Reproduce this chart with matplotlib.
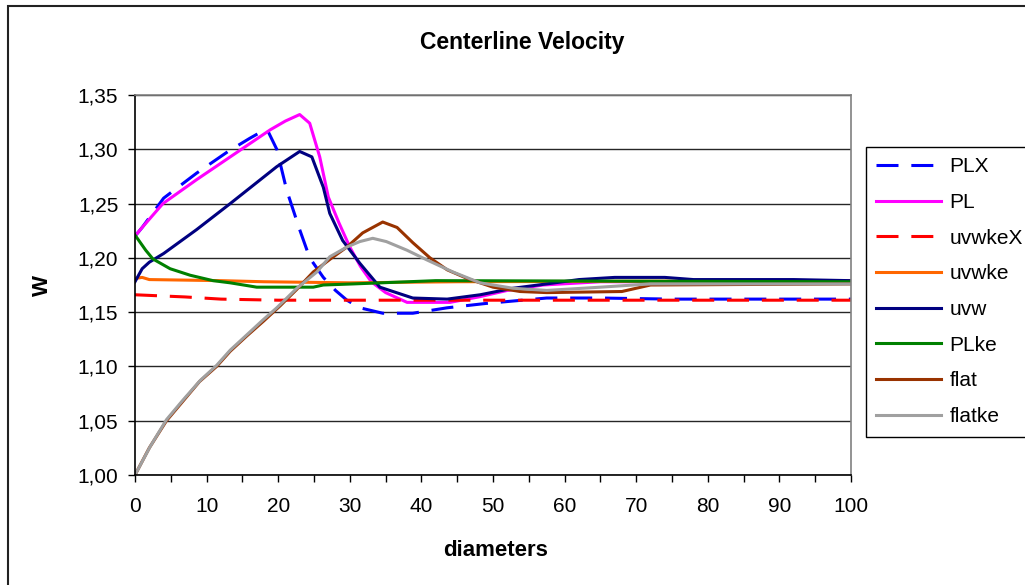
import numpy as np
import matplotlib
matplotlib.use('Agg')
import matplotlib.pyplot as plt
from matplotlib.patches import Rectangle

plt.rcParams['font.family'] = ['Liberation Sans', 'DejaVu Sans']

# data
plx_x = [0, 1, 4, 8.6, 13, 16, 18.4, 19.8, 21.2, 23, 24.4, 26.3, 28, 29.6, 31.4, 34.6, 38.8, 43.6, 49, 57.5, 65, 75, 100]
plx_y = [1.220, 1.228, 1.255, 1.278, 1.298, 1.310, 1.319, 1.300, 1.262, 1.226, 1.200, 1.182, 1.170, 1.161, 1.154, 1.149, 1.149, 1.154, 1.158, 1.163, 1.163, 1.162, 1.162]

pl_x = [0, 1, 3.9, 8.6, 13.3, 18.9, 21, 23, 24.4, 25.8, 27, 28.5, 30, 31.5, 33, 35, 38, 44, 48, 52, 57, 65, 100]
pl_y = [1.220, 1.228, 1.250, 1.272, 1.293, 1.318, 1.326, 1.332, 1.324, 1.293, 1.256, 1.232, 1.210, 1.192, 1.178, 1.168, 1.159, 1.159, 1.164, 1.170, 1.175, 1.178, 1.178]

uvwkex_x = [0, 7, 12, 20, 100]
uvwkex_y = [1.166, 1.164, 1.162, 1.161, 1.161]

uvwke_x = [0, 1, 2, 12, 18, 30, 45, 100]
uvwke_y = [1.181, 1.182, 1.180, 1.179, 1.178, 1.177, 1.178, 1.179]

uvw_x = [0, 1, 2, 4, 8.6, 13.3, 19.8, 23, 24.7, 26.3, 27.2, 29, 31.4, 34.2, 38.8, 43.6, 48.2, 52.8, 57.5, 62, 67, 74, 78, 92, 100]
uvw_y = [1.178, 1.190, 1.196, 1.204, 1.226, 1.250, 1.284, 1.298, 1.293, 1.265, 1.241, 1.216, 1.195, 1.173, 1.163, 1.162, 1.166, 1.172, 1.176, 1.180, 1.182, 1.182, 1.180, 1.180, 1.179]

plke_x = [0, 1.5, 2.5, 4.9, 7.7, 10.9, 13.3, 17, 24.9, 26.3, 30.5, 42, 100]
plke_y = [1.221, 1.207, 1.199, 1.190, 1.184, 1.179, 1.177, 1.173, 1.173, 1.175, 1.176, 1.179, 1.178]

flat_x = [0, 2, 4.4, 6.7, 9, 11.4, 13.3, 15.6, 18, 20.3, 22.6, 24.9, 27.5, 29.6, 31.8, 34.6, 36.6, 38.8, 41.2, 43.6, 46.4, 50, 53.8, 57.5, 68, 72, 100]
flat_y = [1.000, 1.025, 1.050, 1.068, 1.086, 1.100, 1.114, 1.128, 1.142, 1.156, 1.171, 1.187, 1.200, 1.210, 1.223, 1.233, 1.228, 1.214, 1.200, 1.189, 1.181, 1.173, 1.169, 1.168, 1.169, 1.175, 1.176]

flatke_x = [0, 2.1, 4.4, 6.7, 9.1, 11.4, 13.3, 15.6, 17.9, 19.8, 22.6, 25.4, 27.2, 29.6, 31.4, 33.2, 35.1, 38, 40.8, 44.4, 48.2, 52.8, 57.5, 65, 72, 100]
flatke_y = [1.000, 1.026, 1.051, 1.069, 1.087, 1.101, 1.115, 1.129, 1.143, 1.154, 1.172, 1.187, 1.201, 1.210, 1.215, 1.218, 1.215, 1.207, 1.198, 1.187, 1.177, 1.172, 1.170, 1.173, 1.176, 1.176]

fig = plt.figure(figsize=(10.25, 5.85), dpi=100)
ax = fig.add_axes([135/1025, 1-475/585, 716/1025, 380/585])

lw = 2.2
dash = (7.2, 4.2)
ax.plot(plx_x, plx_y, color='#0000FF', lw=lw, dashes=dash, label='PLX')
ax.plot(pl_x, pl_y, color='#FF00FF', lw=lw, label='PL')
ax.plot(uvwkex_x, uvwkex_y, color='#FF0000', lw=lw, dashes=dash, label='uvwkeX')
ax.plot(uvwke_x, uvwke_y, color='#FF6600', lw=lw, label='uvwke')
ax.plot(uvw_x, uvw_y, color='#000080', lw=lw, label='uvw')
ax.plot(plke_x, plke_y, color='#008000', lw=lw, label='PLke')
ax.plot(flat_x, flat_y, color='#993300', lw=lw, label='flat')
ax.plot(flatke_x, flatke_y, color='#A0A0A0', lw=lw, label='flatke')

ax.set_xlim(0, 100)
ax.set_ylim(1.0, 1.35)
ax.set_xticks(np.arange(0, 101, 10))
ax.set_xticks(np.arange(0, 101, 5), minor=True)
yt = np.arange(1.0, 1.351, 0.05)
ax.set_yticks(yt)
ax.set_yticklabels([('%.2f' % v).replace('.', ',') for v in yt])
ax.tick_params(axis='both', which='both', direction='out', length=5, width=1, labelsize=15, color='black')
ax.tick_params(axis='x', pad=11)
ax.tick_params(axis='y', pad=7)
ax.grid(axis='y', color='#262626', lw=1)
ax.set_axisbelow(True)
for s in ['top', 'right']:
    ax.spines[s].set_color('#808080')
for s in ['left', 'bottom']:
    ax.spines[s].set_color('black')
for s in ax.spines.values():
    s.set_linewidth(1.2)

ax.text(-93/716, 0.5, 'W', transform=ax.transAxes, rotation=90, ha='center', va='center',
        fontsize=16, fontweight='bold')
ax.text(0.503, (475-550)/380, 'diameters', transform=ax.transAxes, ha='center', va='center',
        fontsize=16, fontweight='bold')
fig.text(522/1025, 1-42/585, 'Centerline Velocity', ha='center', va='center', fontsize=16.5, fontweight='bold')

leg = fig.legend(loc='upper left', bbox_to_anchor=(866/1025, 1-147/585), bbox_transform=fig.transFigure,
                 fontsize=15, frameon=True, fancybox=False, edgecolor='black', framealpha=1,
                 handlelength=3.1, handletextpad=0.4, labelspacing=0.8, borderpad=0.5, borderaxespad=0)
leg.get_frame().set_linewidth(1)

# outer chart border (top and left visible)
fig.patches.append(Rectangle((8/1025, -0.1), 1.1, 1.1 - 6/585, transform=fig.transFigure,
                             fill=False, edgecolor='#222222', lw=1.5))

fig.savefig('out.png', dpi=100)
